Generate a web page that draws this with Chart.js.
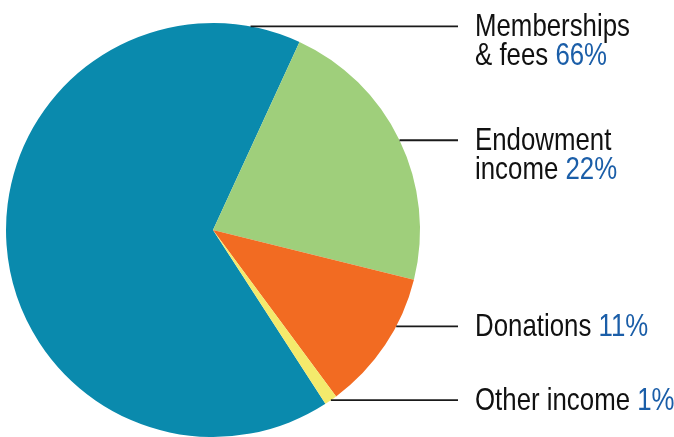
<!DOCTYPE html>
<html>
<head>
<meta charset="utf-8">
<script src="https://cdn.jsdelivr.net/npm/chart.js@4.4.1/dist/chart.umd.min.js"></script>
<style>
  html, body { margin: 0; padding: 0; background: #fff; }
  #wrap { width: 674px; height: 437px; position: relative; }
</style>
</head>
<body>
<div id="wrap"><canvas id="pie"></canvas></div>
<script>
// --- Dati ---
const categories = ['Memberships & fees', 'Endowment income', 'Donations', 'Other income'];
const labelLines = [['Memberships', '& fees'], ['Endowment', 'income'], ['Donations'], ['Other income']];
const shares = [66, 22, 11, 1];
const colors = ['#0a8aad', '#9fcf7b', '#f26b22', '#f4ea6c'];

// dove la linea guida tocca la fetta (frazione dell'arco)
const anchorFrac = [0.94, 0.5, 0.35, 0.5];

const FONT = '32px "Liberation Sans", Arial, sans-serif';
const LINE_END_X = 458;
const TEXT_X = 475;
const LINE_H = 29;
const TARGET_W = 155; // larghezza di "Memberships" nel riferimento (font condensato)

const leaderPlugin = {
    id: 'leaders',
    afterDraw(chart) {
        const ctx = chart.ctx;
        const meta = chart.getDatasetMeta(0);
        ctx.save();
        ctx.font = FONT;
        const sx = TARGET_W / ctx.measureText('Memberships').width;
        meta.data.forEach((arc, i) => {
            const a = arc.startAngle + anchorFrac[i] * (arc.endAngle - arc.startAngle);
            const x0 = arc.x + arc.outerRadius * Math.cos(a);
            const y0 = arc.y + arc.outerRadius * Math.sin(a);

            // linea guida
            ctx.strokeStyle = '#1a1a1a';
            ctx.lineWidth = 1.8;
            ctx.beginPath();
            ctx.moveTo(x0, y0);
            ctx.lineTo(LINE_END_X, y0);
            ctx.stroke();

            // testo (compresso in orizzontale)
            const lines = labelLines[i];
            lines.forEach((txt, j) => {
                const by = y0 + 10 + j * LINE_H;
                ctx.save();
                ctx.translate(TEXT_X, by);
                ctx.scale(sx, 1);
                ctx.font = FONT;
                ctx.textBaseline = 'alphabetic';
                ctx.textAlign = 'left';
                ctx.fillStyle = '#111';
                ctx.fillText(txt, 0, 0);
                if (j === lines.length - 1) {
                    const w = ctx.measureText(txt + ' ').width;
                    ctx.fillStyle = '#1b5ea8';
                    ctx.fillText(shares[i] + '%', w, 0);
                }
                ctx.restore();
            });
        });
        ctx.restore();
    }
};

const ctx = document.getElementById('pie').getContext('2d');
new Chart(ctx, {
    type: 'pie',
    data: {
        labels: categories,
        datasets: [{
            data: shares,
            backgroundColor: colors,
            borderWidth: 0
        }]
    },
    options: {
        responsive: true,
        maintainAspectRatio: false,
        animation: false,
        rotation: 147.1,
        layout: { padding: { left: 6, right: 254, top: 23, bottom: 0 } },
        plugins: {
            legend: { display: false },
            tooltip: { enabled: false }
        }
    },
    plugins: [leaderPlugin]
});
</script>
</body>
</html>
